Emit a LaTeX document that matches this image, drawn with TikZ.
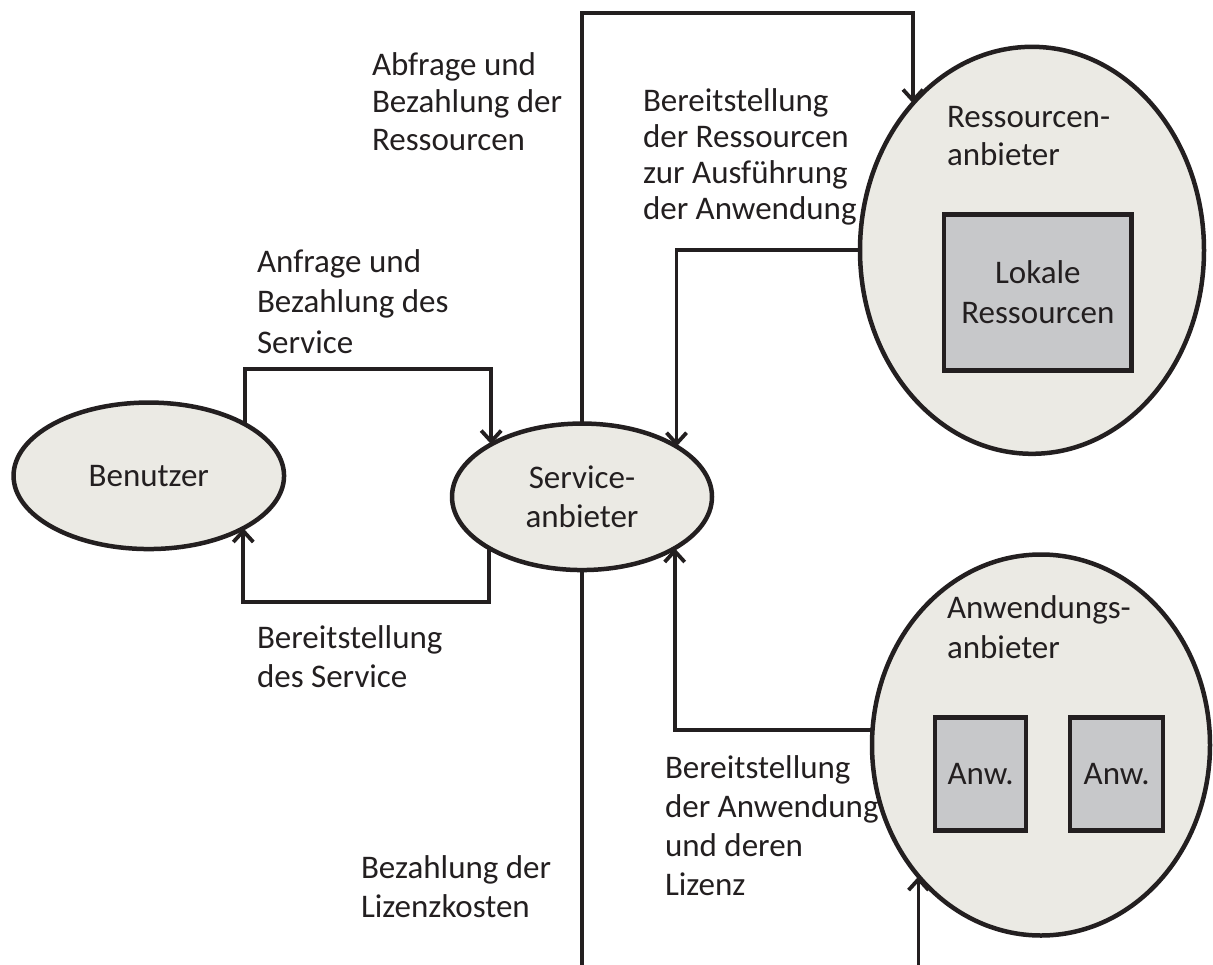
\documentclass[tikz,border=0pt]{standalone}
\usepackage{fontspec}
\setmainfont{Carlito}
\usetikzlibrary{shapes.geometric,arrows.meta}
\definecolor{ink}{HTML}{231F20}
\definecolor{ellfill}{HTML}{EBEAE4}
\definecolor{boxfill}{HTML}{C7C8CA}
\newcommand\mstack[2]{\vtop{\baselineskip=#1pt\lineskiplimit=-1000pt\relax #2}}
\newcommand\Tline[1]{\hbox{#1}}
\tikzset{
  ell/.style={ellipse, draw=ink, line width=4.5pt, fill=ellfill, inner sep=0pt, outer sep=0pt, text=ink, align=center},
  subbox/.style={rectangle, draw=ink, line width=4.5pt, fill=boxfill, inner sep=0pt, outer sep=0pt, text=ink, align=center},
  lbl/.style={anchor=base west, inner sep=0pt, outer sep=0pt, text=ink},
  conn/.style={draw=ink, line width=3.8pt, line join=miter},
  arr/.style={conn, -{Straight Barb[length=11pt,width=20pt]}},
}
\begin{document}
\begin{tikzpicture}[x=1pt,y=-1pt,font=\fontsize{33}{39}\selectfont]
\useasboundingbox (0,0) rectangle (1213,964);
\clip (0,0) rectangle (1213,964);

% main ellipses
\node[ell, minimum width=270.5pt, minimum height=146.5pt] (ben) at (148.8,475.8) {Benutzer};
\node[ell, minimum width=260pt, minimum height=146.5pt] (svc) at (582,496.8) {Service-\\anbieter};
\node[ell, minimum width=344pt, minimum height=407pt] (res) at (1032,250.3) {};
\node[ell, minimum width=338pt, minimum height=381pt] (anw) at (1041,745) {};

% inner boxes
\node[subbox, minimum width=187.7pt, minimum height=156pt, font=\fontsize{33}{40}\selectfont] (lok) at (1037.8,292.5) {Lokale\\Ressourcen};
\node[subbox, minimum width=91pt, minimum height=113pt] (anwa) at (980.6,774) {Anw.};
\node[subbox, minimum width=93pt, minimum height=113pt] (anwb) at (1116.7,774) {Anw.};

% ellipse titles
\node[lbl] (tres) at (947,127) {\mstack{38}{\Tline{Ressourcen-}\Tline{anbieter}}};
\node[lbl] (tanw) at (947,618) {\mstack{40}{\Tline{Anwendungs-}\Tline{anbieter}}};

% connector labels
\node[lbl] (l1) at (372,75) {\mstack{37.5}{\Tline{Abfrage und}\Tline{Bezahlung der}\Tline{Ressourcen}}};
\node[lbl] (l2) at (643,111) {\mstack{36}{\Tline{Bereitstellung}\Tline{der Ressourcen}\Tline{zur Ausführung}\Tline{der Anwendung}}};
\node[lbl] (l3) at (257,272) {\mstack{40.5}{\Tline{Anfrage und}\Tline{Bezahlung des}\Tline{Service}}};
\node[lbl] (l4) at (257,648) {\mstack{39}{\Tline{Bereitstellung}\Tline{des Service}}};
\node[lbl] (l5) at (665,778) {\mstack{39}{\Tline{Bereitstellung}\Tline{der Anwendung}\Tline{und deren}\Tline{Lizenz}}};
\node[lbl] (l6) at (361,878) {\mstack{39}{\Tline{Bezahlung der}\Tline{Lizenzkosten}}};

% level coordinates for bends
\coordinate (yA) at (0,369);
\coordinate (yB) at (0,602);
\coordinate (yC) at (0,12.7);
\coordinate (yD) at (0,1000);

% connectors
\draw[arr] (ben.28.2) -- (ben.28.2 |- yA) -| (svc.150.2);
\draw[arr] (svc.209.8) -- (svc.209.8 |- yB) -| (ben.331.8);
\draw[arr] (svc.north) -- (svc.north |- yC) -| (res.129.9);
\draw[arr] (res.west) -| (svc.28.2);
\draw[arr] (anw.175.6) -| (svc.331.8);
\draw[arr] (svc.south) -- (svc.south |- yD) -| (anw.227.6);
\end{tikzpicture}
\end{document}
